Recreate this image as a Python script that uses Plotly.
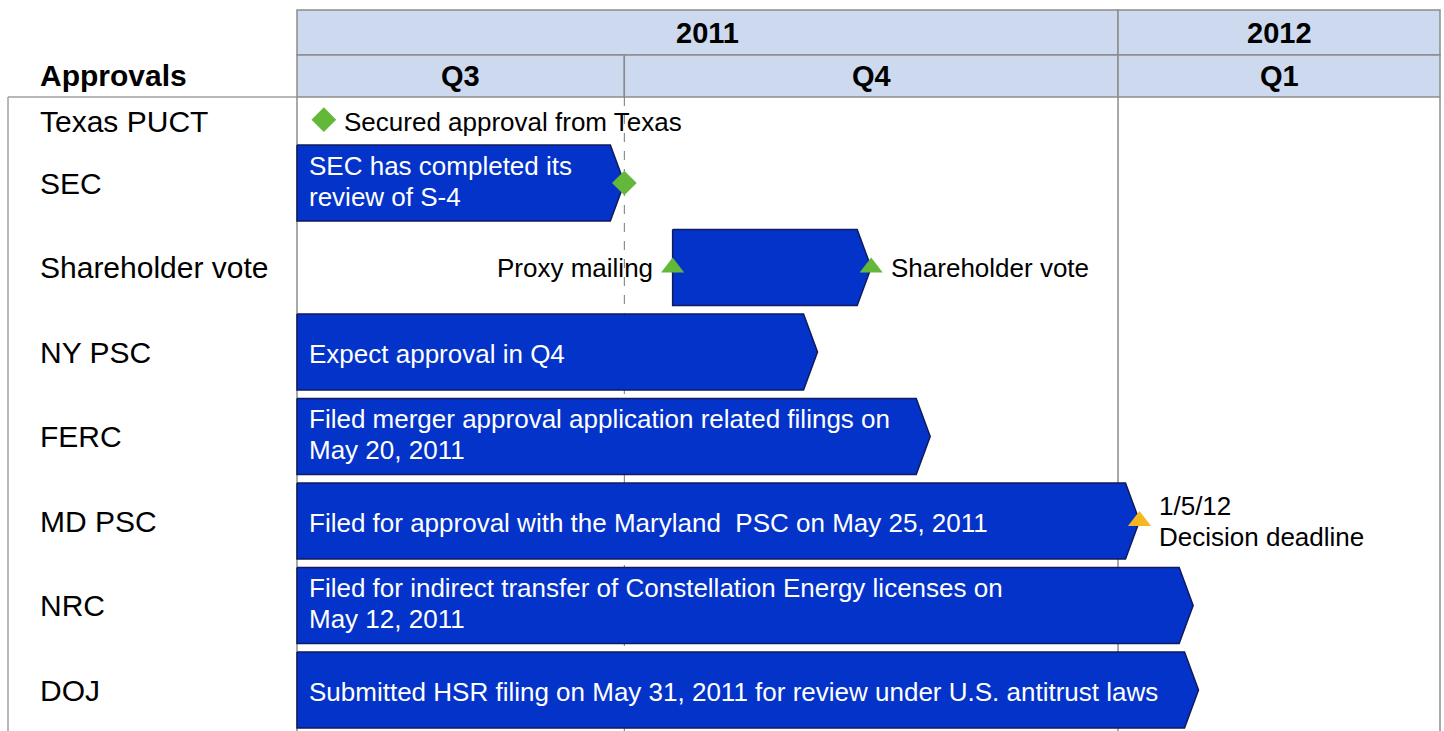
import pandas as pd
import plotly.graph_objects as go

# ---------------- data ----------------
ROWS = ["Texas PUCT", "SEC", "Shareholder vote", "NY PSC", "FERC", "MD PSC", "NRC", "DOJ"]
BAR_START = [None, "2011-08-01", "2011-10-10", "2011-08-01", "2011-08-01",
             "2011-08-01", "2011-08-01", "2011-08-01"]
BAR_END = [None, "2011-10-01", "2011-11-16", "2011-11-06", "2011-11-27",
           "2012-01-05", "2012-01-15", "2012-01-16"]
BAR_TEXT = [
    None,
    "SEC has completed its<br>review of S-4",
    "",
    "Expect approval in Q4",
    "Filed merger approval application related filings on<br>May 20, 2011",
    "Filed for approval with the Maryland  PSC on May 25, 2011",
    "Filed for indirect transfer of Constellation Energy licenses on<br>May 12, 2011",
    "Submitted HSR filing on May 31, 2011 for review under U.S. antitrust laws",
]

MS_ROW = ["Texas PUCT", "SEC", "Shareholder vote", "Shareholder vote", "MD PSC"]
MS_DATE = ["2011-08-06", "2011-10-01", "2011-10-10", "2011-11-16", "2012-01-05"]
MS_KIND = ["done", "done", "event", "event", "deadline"]
MS_LABEL = ["Secured approval from Texas", "", "Proxy mailing", "Shareholder vote",
            "1/5/12<br>Decision deadline"]
MS_SIDE = ["right", "right", "left", "right", "right"]

YEARS = ["2011", "2012"]
YEAR_START = ["2011-01-01", "2012-01-01"]
YEAR_END = ["2012-01-01", "2013-01-01"]
QUARTERS = ["Q3", "Q4", "Q1"]
Q_START = ["2011-07-01", "2011-10-01", "2012-01-01"]
Q_END = ["2011-10-01", "2012-01-01", "2012-04-01"]
VIEW_START, VIEW_END = "2011-08-01", "2012-03-01"
DIVIDER_DATE = "2011-10-01"

# ---------------- layout helpers ----------------
W, H = 1444, 731
X0_PX, X1_PX = 297, 1440
vs, ve = pd.Timestamp(VIEW_START), pd.Timestamp(VIEW_END)
ppd = (X1_PX - X0_PX) / (ve - vs).days          # pixels per day
xr = [vs - pd.Timedelta(days=X0_PX / ppd), ve + pd.Timedelta(days=(W - X1_PX) / ppd)]

ROW_PX = 84.5
TOP_PX = 98.5
def py(px):
    return (px - TOP_PX) / ROW_PX

# row centres: rows without bars are half height
row_y = {}
acc = 0.0
for r, s in zip(ROWS, BAR_START):
    h = 0.5 if s is None else 1.0
    row_y[r] = acc + h / 2
    acc += h

def clip(a, b):
    a, b = pd.Timestamp(a), pd.Timestamp(b)
    return max(a, vs), min(b, ve)

FONT = "Liberation Sans, Arial, sans-serif"
BAR_FILL = "#0433C9"
BAR_LINE = "#101A5C"
GREEN = "#63B83A"
YELLOW = "#F5B71F"
GRID = "#8C8C8C"
HEAD_FILL = "#CDD9EF"
LBL = 30
TXT = 26
LINE_GAP = 31

fig = go.Figure()
shapes, annotations = [], []

def add_lines(text, **kw):
    """multi-line text as separate annotations with a fixed line gap"""
    parts = text.split("<br>")
    n = len(parts)
    base = kw.pop("yshift", 0)
    for i, p in enumerate(parts):
        off = ((n - 1) / 2 - i) * LINE_GAP
        annotations.append(dict(text=p, showarrow=False, yanchor="middle",
                                yshift=base + off, **kw))

# header cells
ys_top, ys_mid, ys_bot = py(10), py(55), py(97)
for name, a, b in zip(YEARS, YEAR_START, YEAR_END):
    a, b = clip(a, b)
    shapes.append(dict(type="rect", xref="x", yref="y", x0=a, x1=b, y0=ys_top, y1=ys_mid,
                       fillcolor=HEAD_FILL, line=dict(color=GRID, width=1.5), layer="below"))
    annotations.append(dict(x=a + (b - a) / 2, y=(ys_top + ys_mid) / 2, text="<b>%s</b>" % name,
                            showarrow=False, font=dict(size=29, color="black", family=FONT)))
for name, a, b in zip(QUARTERS, Q_START, Q_END):
    a, b = clip(a, b)
    shapes.append(dict(type="rect", xref="x", yref="y", x0=a, x1=b, y0=ys_mid, y1=ys_bot,
                       fillcolor=HEAD_FILL, line=dict(color=GRID, width=1.5), layer="below"))
    annotations.append(dict(x=a + (b - a) / 2, y=(ys_mid + ys_bot) / 2, text="<b>%s</b>" % name,
                            showarrow=False, font=dict(size=29, color="black", family=FONT)))

ybottom = py(H + 5)
# vertical grid lines (year boundaries / edges)
for d in [VIEW_START, "2012-01-01", VIEW_END]:
    shapes.append(dict(type="line", xref="x", yref="y", x0=d, x1=d, y0=ys_bot, y1=ybottom,
                       line=dict(color=GRID, width=1.5), layer="below"))
# dashed divider
shapes.append(dict(type="line", xref="x", yref="y", x0=DIVIDER_DATE, x1=DIVIDER_DATE,
                   y0=ys_bot, y1=ybottom, line=dict(color="#777777", width=1, dash="dash"),
                   layer="below"))
# left frame
shapes.append(dict(type="line", xref="paper", yref="y", x0=8 / W, x1=X0_PX / W, y0=ys_bot, y1=ys_bot,
                   line=dict(color="#A0A0A0", width=1.5), layer="below"))
shapes.append(dict(type="line", xref="paper", yref="y", x0=8 / W, x1=8 / W, y0=ys_bot, y1=ybottom,
                   line=dict(color="#A0A0A0", width=1.5), layer="below"))

annotations.append(dict(xref="paper", yref="y", x=38 / W, y=py(75),
                        text="<b>Approvals</b>", showarrow=False, xanchor="left", yanchor="middle",
                        font=dict(size=LBL, color="black", family=FONT)))

# row labels
for r in ROWS:
    annotations.append(dict(xref="paper", yref="y", x=38 / W, y=row_y[r], text=r,
                            showarrow=False, xanchor="left", yanchor="middle",
                            yshift=-2 if r == ROWS[0] else 0,
                            font=dict(size=LBL, color="black", family=FONT)))

# bars (chevrons)
half = 38 / ROW_PX
tip = pd.Timedelta(days=14 / ppd)
for r, s, e, t in zip(ROWS, BAR_START, BAR_END, BAR_TEXT):
    if s is None:
        continue
    s, e = pd.Timestamp(s), pd.Timestamp(e)
    c = row_y[r]
    fig.add_trace(go.Scatter(
        x=[s, e - tip, e, e - tip, s, s],
        y=[c - half, c - half, c, c + half, c + half, c - half],
        mode="lines", fill="toself", fillcolor=BAR_FILL,
        line=dict(color=BAR_LINE, width=1.5), hoverinfo="skip", showlegend=False))
    if t:
        add_lines(t, x=s, y=c, xanchor="left", align="left", xshift=10,
                  yshift=2 if "<br>" in t else -2,
                  font=dict(size=TXT, color="white", family=FONT))

# milestones
kind_style = {
    "done": dict(symbol="diamond", color=GREEN, size=19),
    "event": dict(symbol="triangle-up", color=GREEN, size=20),
    "deadline": dict(symbol="triangle-up", color=YELLOW, size=20),
}
for r, d, k, lab, side in zip(MS_ROW, MS_DATE, MS_KIND, MS_LABEL, MS_SIDE):
    st = kind_style[k]
    fig.add_trace(go.Scatter(x=[pd.Timestamp(d)], y=[row_y[r]], mode="markers",
                             marker=dict(symbol=st["symbol"], color=st["color"], size=st["size"],
                                         line=dict(width=0)),
                             hoverinfo="skip", showlegend=False))
    if lab:
        add_lines(lab, x=pd.Timestamp(d), y=row_y[r],
                  xanchor="left" if side == "right" else "right",
                  xshift=18 if side == "right" else -18, align="left",
                  yshift=-2 if r == ROWS[0] else 0,
                  font=dict(size=TXT, color="black", family=FONT))

fig.update_layout(
    width=W, height=H, margin=dict(l=0, r=0, t=0, b=0),
    paper_bgcolor="white", plot_bgcolor="white",
    xaxis=dict(type="date", range=xr, visible=False, showgrid=False, zeroline=False),
    yaxis=dict(range=[py(H), py(0)], visible=False, showgrid=False, zeroline=False),
    shapes=shapes, annotations=annotations, showlegend=False,
    font=dict(family=FONT),
)

fig.write_html("out.html", config={"displayModeBar": False},
               post_script="document.body.style.margin='0';document.body.style.overflow='hidden';")
